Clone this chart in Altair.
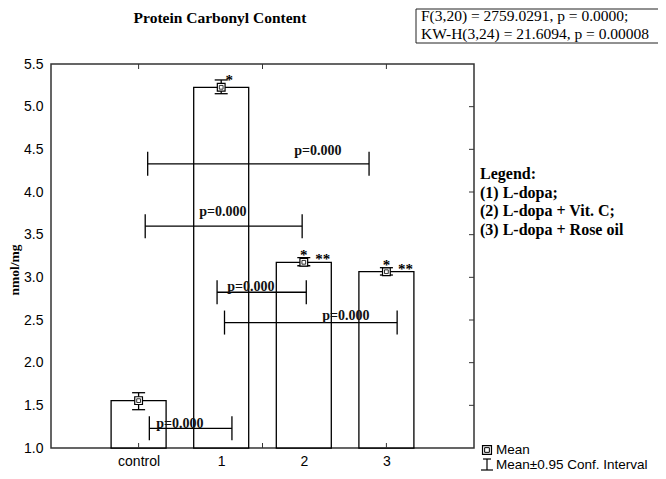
import altair as alt
import pandas as pd

# ---------------- data ----------------
groups = ["control", "1", "2", "3"]
group_pos = [1, 2, 3, 4]
means = [1.555, 5.227, 3.176, 3.066]
ci_low = [1.449, 5.152, 3.136, 3.027]
ci_high = [1.648, 5.313, 3.230, 3.113]

star_top_pos = [3, 4]      # single star above the mean
star_side_pos = [2]        # single star to the right of the mean
dstar_pos = [3, 4]         # double star to the right

comp_y = [4.33, 3.60, 2.825, 2.47, 1.23]
comp_x1 = [1.11, 1.08, 1.95, 2.04, 1.13]
comp_x2 = [3.79, 2.98, 3.03, 4.13, 2.13]
comp_label_x = [3.17, 2.02, 2.36, 3.51, 1.50]
comp_label_y = [4.48, 3.76, 2.89, 2.55, 1.28]
comp_label = ["p=0.000"] * 5

y_tick_values = [1.0, 1.5, 2.0, 2.5, 3.0, 3.5, 4.0, 4.5, 5.0, 5.5]
x_frame_ticks = [1, 2.5, 4]

title_text = "Protein Carbonyl Content"
stats_lines = ["F(3,20) = 2759.0291, p = 0.0000;", "KW-H(3,24) = 21.6094, p = 0.00008"]
legend_lines = ["Legend:", "(1) L-dopa;", "(2) L-dopa + Vit. C;", "(3) L-dopa + Rose oil"]
y_title = "nmol/mg"

SERIF = "Liberation Serif"
SANS = "Liberation Sans"
W, H = 423, 384

df = pd.DataFrame({"group": groups, "pos": group_pos, "mean": means,
                   "lo": ci_low, "hi": ci_high})
comp = pd.DataFrame({"y": comp_y, "x1": comp_x1, "x2": comp_x2,
                     "lx": comp_label_x, "ly": comp_label_y, "label": comp_label})

xs = alt.Scale(domain=[0, 5], nice=False, zero=False)
ys = alt.Scale(domain=[1, 5.5], nice=False, zero=False)

label_expr = ("datum.value == 1 ? 'control' : datum.value == 2 ? '1' : "
              "datum.value == 3 ? '2' : datum.value == 4 ? '3' : ''")

base = alt.Chart(df)

bars = base.mark_bar(size=55, fill="white", stroke="black", strokeWidth=1.3).encode(
    x=alt.X("pos:Q", scale=xs, title=None,
            axis=alt.Axis(values=group_pos, labelExpr=label_expr, ticks=False, domain=False,
                          grid=False, labelFont=SANS, labelFontSize=14, labelColor="black",
                          labelPadding=6)),
    y=alt.Y("mean:Q", scale=ys, title=None,
            axis=alt.Axis(values=y_tick_values, format=".1f", ticks=False, domain=False,
                          grid=False, labelFont=SANS, labelFontSize=14, labelColor="black",
                          labelPadding=8)),
    y2=alt.datum(1.0),
)

err = base.mark_rule(color="black", strokeWidth=1.3).encode(
    x=alt.X("pos:Q", scale=xs), y=alt.Y("lo:Q", scale=ys), y2="hi:Q")
cap_lo = base.mark_tick(orient="horizontal", size=13, thickness=1.3, color="black", opacity=1).encode(
    x=alt.X("pos:Q", scale=xs), y=alt.Y("lo:Q", scale=ys))
cap_hi = base.mark_tick(orient="horizontal", size=13, thickness=1.3, color="black", opacity=1).encode(
    x=alt.X("pos:Q", scale=xs), y=alt.Y("hi:Q", scale=ys))
mean_pt = base.mark_square(size=60, filled=True, fill="white", stroke="black",
                           strokeWidth=1.2, opacity=1).encode(
    x=alt.X("pos:Q", scale=xs), y=alt.Y("mean:Q", scale=ys))
mean_inner = base.mark_square(size=14, filled=False, stroke="black",
                              strokeWidth=0.8, opacity=1).encode(
    x=alt.X("pos:Q", scale=xs), y=alt.Y("mean:Q", scale=ys))

star_font = dict(font=SERIF, fontSize=15, fontWeight="bold", color="black", baseline="alphabetic")
star_top = base.transform_filter(alt.FieldOneOfPredicate(field="pos", oneOf=star_top_pos)).mark_text(
    text="*", dx=0, dy=-2, align="center", **star_font).encode(
    x=alt.X("pos:Q", scale=xs), y=alt.Y("mean:Q", scale=ys))
star_side = base.transform_filter(alt.FieldOneOfPredicate(field="pos", oneOf=star_side_pos)).mark_text(
    text="*", dx=8, dy=-2, align="center", **star_font).encode(
    x=alt.X("pos:Q", scale=xs), y=alt.Y("mean:Q", scale=ys))
dstar = base.transform_filter(alt.FieldOneOfPredicate(field="pos", oneOf=dstar_pos)).mark_text(
    text="**", dx=19, dy=2, align="center", **star_font).encode(
    x=alt.X("pos:Q", scale=xs), y=alt.Y("mean:Q", scale=ys))

cbase = alt.Chart(comp)
c_rule = cbase.mark_rule(color="black", strokeWidth=1.3).encode(
    x=alt.X("x1:Q", scale=xs), x2="x2:Q", y=alt.Y("y:Q", scale=ys))
c_cap1 = cbase.mark_tick(orient="vertical", size=24, thickness=1.3, color="black", opacity=1).encode(
    x=alt.X("x1:Q", scale=xs), y=alt.Y("y:Q", scale=ys))
c_cap2 = cbase.mark_tick(orient="vertical", size=24, thickness=1.3, color="black", opacity=1).encode(
    x=alt.X("x2:Q", scale=xs), y=alt.Y("y:Q", scale=ys))
c_text = cbase.mark_text(font=SERIF, fontSize=14, fontWeight="bold", color="#111",
                         baseline="middle", align="center").encode(
    x=alt.X("lx:Q", scale=xs), y=alt.Y("ly:Q", scale=ys), text="label:N")

# inner frame ticks
fx = alt.Chart(pd.DataFrame({"t": x_frame_ticks}))
tick_bottom = fx.mark_rule(color="#333", strokeWidth=1).encode(
    x=alt.X("t:Q", scale=xs), y=alt.value(H), y2=alt.value(H - 5))
tick_top = fx.mark_rule(color="#333", strokeWidth=1).encode(
    x=alt.X("t:Q", scale=xs), y=alt.value(0), y2=alt.value(5))
fy = alt.Chart(pd.DataFrame({"v": y_tick_values[1:-1]}))
tick_right = fy.mark_rule(color="#333", strokeWidth=1).encode(
    y=alt.Y("v:Q", scale=ys), x=alt.value(W), x2=alt.value(W - 5))

one = alt.Chart(alt.Data(values=[{"a": 1}]))


def label(text, x, y, **kw):
    return one.mark_text(text=text, color="black", baseline="middle", **kw).encode(
        x=alt.value(x), y=alt.value(y))


title = label(title_text, 169, -46, font=SERIF, fontSize=15.5, fontWeight="bold", align="center")

box = one.mark_rect(fill="white", stroke="#222", strokeWidth=1).encode(
    x=alt.value(365), x2=alt.value(640), y=alt.value(-55), y2=alt.value(-21))
stats_layers = [label(t, 370, yy, font=SERIF, fontSize=15.5, align="left")
                for t, yy in zip(stats_lines, [-48, -30])]

legend_layers = [label(t, 429, yy, font=SERIF, fontSize=16, fontWeight="bold", align="left")
                 for t, yy in zip(legend_lines, [110, 128.5, 147, 165.5])]

# bottom symbol legend
sym_sq = one.mark_square(size=80, filled=True, fill="white", stroke="black", strokeWidth=1.2,
                         opacity=1).encode(x=alt.value(436), y=alt.value(386))
sym_sq_in = one.mark_square(size=22, filled=False, stroke="black", strokeWidth=1,
                            opacity=1).encode(x=alt.value(436), y=alt.value(386))
sym_txt1 = label("Mean", 445, 386, font=SANS, fontSize=13.5, align="left")
ib_v = one.mark_rule(color="black", strokeWidth=1.2).encode(
    x=alt.value(436), y=alt.value(395), y2=alt.value(406))
ib_t = one.mark_rule(color="black", strokeWidth=1.2).encode(
    x=alt.value(432), x2=alt.value(440), y=alt.value(395))
ib_b = one.mark_rule(color="black", strokeWidth=1.2).encode(
    x=alt.value(430), x2=alt.value(442), y=alt.value(406))
sym_txt2 = label("Mean\u00b10.95 Conf. Interval", 445, 401, font=SANS, fontSize=13.5, align="left")

ytitle = label(y_title, -36, 206, font=SERIF, fontSize=13.5, fontWeight="bold", angle=270,
               align="center")

chart = alt.layer(
    bars, err, cap_lo, cap_hi, mean_pt, mean_inner, star_top, star_side, dstar,
    c_rule, c_cap1, c_cap2, c_text, tick_bottom, tick_top, tick_right,
    title, box, *stats_layers, *legend_layers, sym_sq, sym_sq_in, sym_txt1,
    ib_v, ib_t, ib_b, sym_txt2, ytitle,
).properties(
    width=W, height=H,
    autosize=alt.AutoSizeParams(type="none"),
    padding={"left": 43, "top": 56, "right": 184, "bottom": 23},
).configure_view(stroke="#333", strokeWidth=1.5)

chart.save("out.html", embed_options={"renderer": "svg", "actions": False})
